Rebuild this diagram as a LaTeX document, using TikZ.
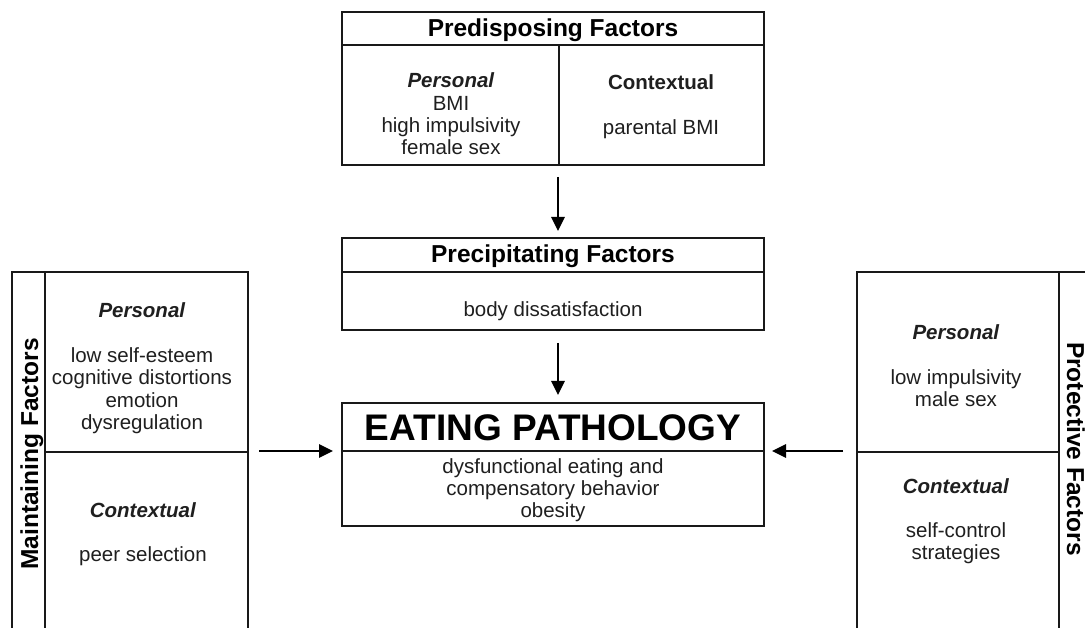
\documentclass[tikz,border=0pt]{standalone}
\usepackage{fontspec}
\setmainfont{Liberation Sans}
\usetikzlibrary{arrows.meta}
\begin{document}
\begin{tikzpicture}[x=1pt,y=-1pt,
  box/.style={draw=black!90, line width=1.5pt, inner sep=0pt, outer sep=0pt},
  rulel/.style={draw=black!90, line width=1.5pt},
  arr/.style={draw=black, line width=1.5pt, -{Triangle[length=14pt,width=13.5pt]}},
  bodytxt/.style={anchor=base, inner sep=0pt, text=black!88, font=\fontsize{20.5}{22.3}\selectfont},
  ttl/.style={anchor=base, inner sep=0pt, font=\fontsize{24.5}{26}\selectfont\bfseries},
  bigttl/.style={anchor=base, inner sep=0pt, font=\fontsize{37}{40}\selectfont\bfseries},
]
\useasboundingbox (0,0) rectangle (1085,628);
\clip (0,0) rectangle (1085,628);
\fill[white] (0,0) rectangle (1085,628);

% boxes
\node[box, minimum width=422pt, minimum height=153pt] (pred) at (553,88.5) {};
\node[box, minimum width=422pt, minimum height=92pt] (precip) at (553,284) {};
\node[box, minimum width=422pt, minimum height=123pt] (eat) at (553,464.5) {};
\node[box, minimum width=236pt, minimum height=400pt] (maint) at (130,472) {};
\node[box, minimum width=260pt, minimum height=400pt] (prot) at (987,472) {};

% dividers
\draw[rulel] ([yshift=-33pt]pred.north west) -- ([yshift=-33pt]pred.north east);
\draw[rulel] ([xshift=6pt,yshift=-33pt]pred.north) -- ([xshift=6pt]pred.south);
\draw[rulel] ([yshift=-34pt]precip.north west) -- ([yshift=-34pt]precip.north east);
\draw[rulel] ([yshift=-48pt]eat.north west) -- ([yshift=-48pt]eat.north east);
\draw[rulel] ([xshift=33pt]maint.north west) -- ([xshift=33pt]maint.south west);
\draw[rulel] ([xshift=33pt,yshift=-180pt]maint.north west) -- ([yshift=-180pt]maint.north east);
\draw[rulel] ([xshift=202pt]prot.north west) -- ([xshift=202pt]prot.south west);
\draw[rulel] ([yshift=-180pt]prot.north west) -- ([xshift=202pt,yshift=-180pt]prot.north west);

% texts
\node[ttl] (predT) at (553,36.7) {Predisposing Factors};
\node[bodytxt] (predP) at (451,88) {\begin{tabular}[t]{@{}c@{}}\textbf{\textit{Personal}}\\BMI\\high impulsivity\\female sex\end{tabular}};
\node[bodytxt] (predC) at (661,90) {\begin{tabular}[t]{@{}c@{}}\textbf{Contextual}\\ \\parental BMI\end{tabular}};

\node[ttl] (precT) at (553,263) {Precipitating Factors};
\node[bodytxt] (precB) at (553,317) {body dissatisfaction};

\node[bigttl] (eatT) at (553,440) {EATING PATHOLOGY};
\node[bodytxt] (eatB) at (553,473) {\begin{tabular}[t]{@{}c@{}}dysfunctional eating and\\compensatory behavior\\obesity\end{tabular}};

\node[ttl, rotate=90] (maintT) at (38,454) {Maintaining Factors};
\node[bodytxt] (maintP) at (142,318) {\begin{tabular}[t]{@{}c@{}}\textbf{\textit{Personal}}\\ \\low self-esteem\\cognitive distortions\\emotion\\dysregulation\end{tabular}};
\node[bodytxt] (maintC) at (143,517) {\begin{tabular}[t]{@{}c@{}}\textbf{\textit{Contextual}}\\ \\peer selection\end{tabular}};

\node[ttl, rotate=-90] (protT) at (1067,449) {Protective Factors};
\node[bodytxt] (protP) at (956,340) {\begin{tabular}[t]{@{}c@{}}\textbf{\textit{Personal}}\\ \\low impulsivity\\male sex\end{tabular}};
\node[bodytxt] (protC) at (956,493) {\begin{tabular}[t]{@{}c@{}}\textbf{\textit{Contextual}}\\ \\self-control\\strategies\end{tabular}};

% arrows
\draw[arr] ([xshift=5pt,yshift=-12pt]pred.south) -- ([xshift=5pt,yshift=7pt]precip.north);
\draw[arr] ([xshift=5pt,yshift=-13pt]precip.south) -- ([xshift=5pt,yshift=8pt]eat.north);
\draw[arr] ([xshift=11pt,yshift=13.5pt]maint.east |- eat.west) -- ([xshift=-9pt,yshift=13.5pt]eat.west);
\draw[arr] ([xshift=-14pt,yshift=13.5pt]prot.west |- eat.east) -- ([xshift=8pt,yshift=13.5pt]eat.east);
\end{tikzpicture}
\end{document}
